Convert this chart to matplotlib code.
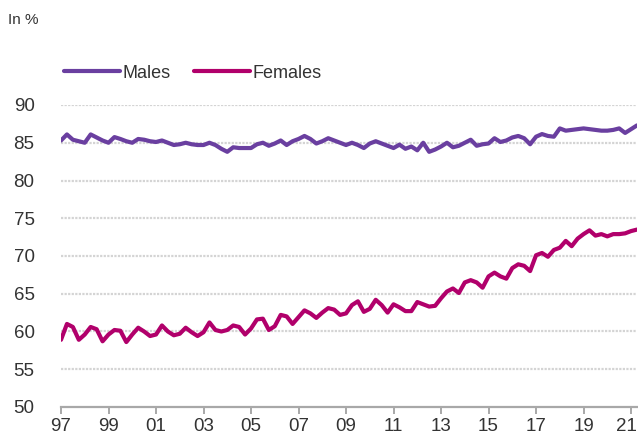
#--Labour force participation by sex, quarterly 1997-2021
#--line chart with dotted grid and legend above the axes

import numpy as np
import pandas as pd
import matplotlib
matplotlib.use("Agg")
import matplotlib.pyplot as plt
from matplotlib.transforms import ScaledTranslation

plt.rcParams['font.family'] = ['Liberation Sans', 'DejaVu Sans']

#--Data (in %), one value per quarter, 1997Q1 to 2021Q2
quarters = pd.period_range('1997Q1', '2021Q2', freq='Q')

males = [85.3, 86.1, 85.4, 85.2,  85.0, 86.1, 85.7, 85.3,  85.0, 85.75, 85.5, 85.2,
         85.0, 85.5, 85.4, 85.2,  85.1, 85.3, 85.0, 84.7,  84.8, 85.0, 84.8, 84.7,
         84.7, 85.0, 84.7, 84.2,  83.8, 84.4, 84.3, 84.3,  84.3, 84.8, 85.0, 84.6,
         84.9, 85.3, 84.7, 85.2,  85.5, 85.9, 85.5, 84.9,  85.2, 85.6, 85.3, 85.0,
         84.7, 85.0, 84.7, 84.3,  84.9, 85.2, 84.9, 84.6,  84.3, 84.75, 84.2, 84.5,
         84.0, 85.0, 83.8, 84.1,  84.5, 85.0, 84.4, 84.6,  85.0, 85.4, 84.6, 84.8,
         84.9, 85.6, 85.1, 85.3,  85.7, 85.9, 85.6, 84.8,  85.8, 86.15, 85.9, 85.8,
         86.9, 86.6, 86.7, 86.8,  86.9, 86.8, 86.7, 86.6,  86.6, 86.7, 86.9, 86.3,
         86.8, 87.3]

females = [58.9, 61.0, 60.6, 58.9,  59.6, 60.6, 60.3, 58.7,  59.6, 60.2, 60.1, 58.6,
           59.6, 60.5, 60.0, 59.4,  59.6, 60.8, 60.0, 59.5,  59.7, 60.5, 59.9, 59.4,
           59.9, 61.2, 60.2, 60.0,  60.2, 60.8, 60.6, 59.6,  60.4, 61.6, 61.7, 60.2,
           60.7, 62.2, 62.0, 61.0,  61.9, 62.8, 62.4, 61.8,  62.5, 63.1, 62.9, 62.2,
           62.4, 63.5, 64.0, 62.6,  63.0, 64.2, 63.5, 62.5,  63.6, 63.2, 62.7, 62.7,
           63.9, 63.6, 63.3, 63.4,  64.4, 65.3, 65.7, 65.1,  66.5, 66.8, 66.5, 65.8,
           67.3, 67.8, 67.3, 67.0,  68.4, 68.9, 68.7, 68.0,  70.1, 70.4, 69.9, 70.8,
           71.1, 72.0, 71.3, 72.3,  72.9, 73.4, 72.7, 72.9,  72.6, 72.9, 72.9, 73.0,
           73.3, 73.5]

tick_years = list(range(1997, 2022, 2))
tick_labels = ['97', '99', '01', '03', '05', '07', '09', '11', '13', '15', '17', '19', '21']
y_ticks = [50, 55, 60, 65, 70, 75, 80, 85, 90]

#--decimal year for each quarter
t = quarters.year + (quarters.quarter - 1) / 4.

c_male = '#6a3fa0'
c_female = '#b1006b'
grey = '#a8a8a8'
txt = '#333333'

#--Plot
fig = plt.figure(figsize=(6.38, 4.43), dpi=100)
ax = fig.add_axes([61/638, 1-407/443, (637-61)/638, (407-105)/443])

ax.plot(t, males, color=c_male, lw=3.0, solid_capstyle='round', solid_joinstyle='round', label='Males')
ax.plot(t, females, color=c_female, lw=3.0, solid_capstyle='round', solid_joinstyle='round', label='Females')

ax.set_xlim(1997, 2021.25)
ax.set_ylim(50, 90)
ax.set_yticks(y_ticks)
ax.set_xticks(tick_years)
ax.set_xticklabels(tick_labels)

#--dotted horizontal grid, only bottom spine
for v in y_ticks[1:]:
  ax.axhline(v, color='#d4d4d4', lw=1.6, ls=(0, (1, 0.6)), zorder=0)
for s in ['top', 'right', 'left']:
  ax.spines[s].set_visible(False)
ax.spines['bottom'].set_color(grey)
ax.spines['bottom'].set_linewidth(1.6)
ax.tick_params(axis='x', length=5, width=1.4, color=grey, pad=3, labelsize=13.5, labelcolor=txt)
ax.tick_params(axis='y', length=0, pad=19, labelsize=13.5, labelcolor=txt)

#--keep the last year label inside the picture
last = ax.get_xticklabels()[-1]
last.set_transform(last.get_transform() + ScaledTranslation(-5/100, 0, fig.dpi_scale_trans))

fig.text(8/638, 1-20/443, 'In %', fontsize=11, color=txt, va='center', ha='left')

ax.legend(loc='center left', bbox_to_anchor=(64/638, 1-73/443), bbox_transform=fig.transFigure,
          ncol=2, frameon=False, borderpad=0, borderaxespad=0, handlelength=3.1,
          handletextpad=0.15, columnspacing=1.3, fontsize=13, labelcolor=txt)

fig.savefig('out.png', dpi=100)
